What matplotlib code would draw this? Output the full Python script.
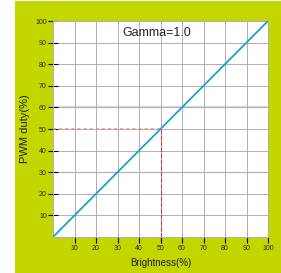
import matplotlib.pyplot as plt
from matplotlib.patches import Rectangle

# data
brightness = [0, 100]
duty = [0, 100]
mark_x = [0, 50, 50]
mark_y = [50, 50, 0]
ticks = [10, 20, 30, 40, 50, 60, 70, 80, 90, 100]

plt.rcParams['font.family'] = ['Liberation Sans', 'DejaVu Sans']

fig = plt.figure(figsize=(2.81, 2.73), dpi=100, facecolor='white')
# green frame
fig.patches.append(Rectangle((15/281, 0), 1 - 15/281, 272/273, transform=fig.transFigure,
                             facecolor='#c4d600', edgecolor='none', zorder=-10))

ax = fig.add_axes([53/281, 36/273, 215/281, 216/273])
ax.set_zorder(1)
ax.set_facecolor('white')
ax.plot(brightness, duty, color='#1a9fd6', lw=1.3, zorder=3)
# dashed marker at 50%
ax.plot(mark_x[:2], mark_y[:2], color='#e48a8a', lw=1.1, ls=(0, (2, 2)), zorder=2)
ax.plot(mark_x[1:], mark_y[1:], color='#cc3a3a', lw=0.8, ls=(0, (4, 1.5)), zorder=2)

ax.set_xlim(0, 100)
ax.set_ylim(0, 100)
ax.set_xticks(ticks)
ax.set_yticks(ticks)
ax.grid(True, color='#b0b0b0', lw=0.7)
ax.axhline(60, color='#d8d8d8', lw=1.6, zorder=1.5)
ax.axhline(30, color='#c8c8c8', lw=0.9, zorder=1.5)
for s in ax.spines.values():
    s.set_color('#b0b0b0')
    s.set_linewidth(0.7)

ax.tick_params(axis='x', direction='out', length=4, width=0.8, color='black',
               labelsize=5, labelcolor='#2a2a10', pad=2)
ax.tick_params(axis='y', direction='inout', length=7, width=0.8, color='black',
               labelsize=5, labelcolor='#2a2a10', pad=1)

ax.text(0.484, 0.944, 'Gamma=1.0', transform=ax.transAxes, ha='center', va='center',
        fontsize=9, color='#222222')
ax.set_xlabel('Brightness(%)', fontsize=7, color='#222222', labelpad=4)
ax.set_ylabel('PWM duty(%)', fontsize=8, color='#222222', labelpad=4)

fig.savefig('out.png', dpi=100, facecolor=fig.get_facecolor())
